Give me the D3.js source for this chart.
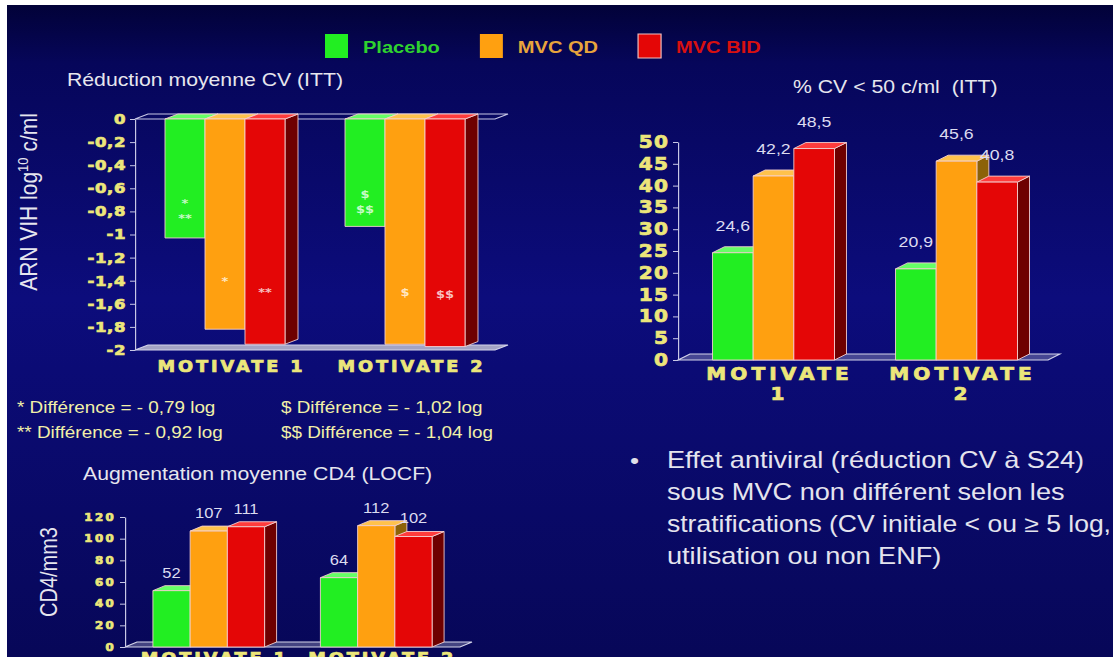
<!DOCTYPE html>
<html>
<head>
<meta charset="utf-8">
<script src="https://cdn.jsdelivr.net/npm/d3@7"></script>
<style>
  html, body { margin: 0; padding: 0; background: #fff; overflow: hidden; }
  svg { display: block; }
</style>
</head>
<body>
<div id="slide"></div>
<script>
// ---- data ----
var series = ["Placebo", "MVC QD", "MVC BID"];
var studies = ["MOTIVATE 1", "MOTIVATE 2"];

// mean viral load reduction (log10 c/ml), per study then per arm
var cvReduction = [[-1.03, -1.82, -1.95], [-0.93, -1.95, -1.97]];
var cvMarks = [[["*", "**"], ["*"], ["**"]], [["$", "$$"], ["$"], ["$$"]]];
var cvTicks = [0, -0.2, -0.4, -0.6, -0.8, -1, -1.2, -1.4, -1.6, -1.8, -2];

// % VL < 50 c/ml
var cvBelow50 = [[24.6, 42.2, 48.5], [20.9, 45.6, 40.8]];
var pctTicks = [0, 5, 10, 15, 20, 25, 30, 35, 40, 45, 50];

// mean CD4 gain
var cd4Gain = [[52, 107, 111], [64, 112, 102]];
var cd4Ticks = [0, 20, 40, 60, 80, 100, 120];

var footnotes = ["* Différence = - 0,79 log", "** Différence = - 0,92 log",
                 "$ Différence = - 1,02 log", "$$ Différence = - 1,04 log"];
var bulletLines = ["Effet antiviral (réduction CV à S24)",
                   "sous MVC non différent selon les",
                   "stratifications (CV initiale < ou ≥ 5 log,",
                   "utilisation ou non ENF)"];

// ---- styles ----
var frontColors = ["#22ee22", "#ffa010", "#e40606"];
var sideColors = ["#0c8a0c", "#8c6208", "#6e0000"];
var topColors = ["#66ff66", "#ffc24c", "#ff3c3c"];
var legendText = ["#2fd22f", "#e8a43c", "#d81010"];
var yellow = "#ece67a";
var axisCol = "#c8c8e6";

var W = 1119, H = 657;
var SX = 1.18;                 // the slide picture is stretched sideways
function sx(v) { return v / SX; }

var fr = d3.formatLocale({decimal: ",", thousands: " ", grouping: [3], currency: ["", " €"]});

var svg = d3.select("#slide").append("svg")
    .attr("width", W)
    .attr("height", H)
    .attr("viewBox", "0 0 " + sx(W) + " " + H)
    .attr("preserveAspectRatio", "none");

var grad = svg.append("defs").append("linearGradient")
    .attr("id", "bg").attr("x1", 0).attr("y1", 0).attr("x2", 0).attr("y2", 1);
[["0%", "#020238"], ["9%", "#06065a"], ["45%", "#0c0c7c"], ["100%", "#070758"]].forEach(function(s) {
  grad.append("stop").attr("offset", s[0]).attr("stop-color", s[1]);
});

svg.append("rect")
    .attr("x", sx(7)).attr("y", 5)
    .attr("width", sx(1113 - 7)).attr("height", H - 5)
    .attr("fill", "url(#bg)");

// legend
var legend = svg.append("g");
var lx = sx(325);
series.forEach(function(s, i) {
  legend.append("rect")
    .attr("x", lx).attr("y", 34)
    .attr("width", sx(23)).attr("height", 24)
    .attr("fill", frontColors[i])
    .attr("stroke", i == 2 ? "#f0c0c0" : "none");
  var t = legend.append("text")
    .attr("x", lx + sx(38)).attr("y", 53)
    .attr("fill", legendText[i])
    .style("font", "bold 17px 'Liberation Sans', Arial, sans-serif")
    .text(s);
  lx = lx + sx(38) + t.node().getComputedTextLength() + sx(40);
});

function para(xa, xb, yy, dx, dy) {
  return "M" + xa + "," + yy + "L" + (xa + dx) + "," + (yy + dy) +
         "L" + (xb + dx) + "," + (yy + dy) + "L" + xb + "," + yy + "Z";
}

// heavy yellow lettering like the slide's Arial Black
function heavy(sel, font, spacing) {
  sel.attr("fill", yellow)
    .attr("stroke", yellow).attr("stroke-width", 0.7)
    .style("font", font)
    .style("letter-spacing", spacing + "px");
}

function drawChart(cfg) {
  var g = svg.append("g");

  var x0 = d3.scaleBand().domain(studies)
      .range(cfg.xRange.map(sx)).paddingInner(1 / 3).paddingOuter(1 / 6);
  var x1 = d3.scaleBand().domain(series).range([0, x0.bandwidth()]);
  var y = d3.scaleLinear().domain(cfg.yDomain).range(cfg.yRange);

  var dx = sx(cfg.depth[0]), dy = cfg.depth[1];
  var left = sx(cfg.axisX), right = sx(cfg.xRange[1]);
  var zero = y(0), floorY = Math.max(y(cfg.yDomain[0]), y(cfg.yDomain[1]));

  // floor
  g.append("path")
    .attr("d", para(left, right, floorY, dx, dy))
    .attr("fill", "#b4b4cc").attr("fill-opacity", cfg.floorOpacity)
    .attr("stroke", "#d4d4ea").attr("stroke-width", 1);
  if (zero != floorY) {
    g.append("path")
      .attr("d", para(left, right, zero, dx, dy))
      .attr("fill", "none").attr("stroke", axisCol).attr("stroke-width", 1);
  }

  var bars = [];
  studies.forEach(function(st, gi) {
    series.forEach(function(s, si) {
      bars.push({study: st, gi: gi, series: s, si: si, value: cfg.values[gi][si]});
    });
  });

  var bar = g.selectAll("g.bar").data(bars).join("g").attr("class", "bar");
  bar.each(function(d) {
    var b = d3.select(this);
    var xa = x0(d.study) + x1(d.series), xb = xa + x1.bandwidth();
    var yt = Math.min(y(d.value), zero), yb = Math.max(y(d.value), zero);
    b.append("path")
      .attr("d", "M" + xb + "," + yt + "L" + (xb + dx) + "," + (yt + dy) +
                 "L" + (xb + dx) + "," + (yb + dy) + "L" + xb + "," + yb + "Z")
      .attr("fill", sideColors[d.si]);
    b.append("path")
      .attr("d", para(xa, xb, yt, dx, dy))
      .attr("fill", topColors[d.si]);
    b.append("rect")
      .attr("x", xa).attr("y", yt)
      .attr("width", xb - xa).attr("height", yb - yt)
      .attr("fill", frontColors[d.si]);
    b.selectAll("path, rect")
      .attr("stroke", "#f6d2d2").attr("stroke-width", 0.8).attr("stroke-linejoin", "round");
  });

  // value labels above bars
  if (cfg.labelFmt) {
    g.selectAll("text.val").data(bars).join("text")
      .attr("class", "val")
      .attr("x", function(d) { return x0(d.study) + x1(d.series) + x1.bandwidth() / 2; })
      .attr("y", function(d) { return y(d.value) + dy - cfg.labelGap; })
      .attr("text-anchor", "middle")
      .attr("fill", "#dcdcf0")
      .style("font", cfg.labelFont)
      .text(function(d) { return cfg.labelFmt(d.value); });
  }

  // significance marks inside the bars
  if (cfg.marks) {
    bars.forEach(function(d) {
      var lines = cfg.marks[d.gi][d.si];
      var cy = zero + 0.77 * (y(d.value) - zero);
      lines.forEach(function(m, k) {
        g.append("text")
          .attr("x", x0(d.study) + x1(d.series) + x1.bandwidth() / 2)
          .attr("y", cy + (k - (lines.length - 1) / 2) * 15 + 4)
          .attr("text-anchor", "middle")
          .attr("fill", "#ffffff").attr("fill-opacity", 0.75)
          .style("font", "bold 11px 'DejaVu Sans', sans-serif")
          .text(m);
      });
    });
  }

  // y axis
  var ax = g.append("g")
    .attr("transform", "translate(" + left + ",0)")
    .call(d3.axisLeft(y).tickValues(cfg.ticks).tickFormat(cfg.tickFmt)
      .tickSize(sx(5)).tickSizeOuter(0).tickPadding(sx(4)));
  ax.select(".domain").attr("stroke", axisCol);
  ax.selectAll(".tick line").attr("stroke", axisCol);
  ax.selectAll(".tick text").call(heavy, cfg.tickFont, cfg.tickSpacing);

  // study labels
  studies.forEach(function(st) {
    var cx = x0(st) + x0.bandwidth() / 2 + dx / 2;
    var t = g.append("text")
      .attr("x", cx)
      .attr("y", cfg.catY)
      .attr("text-anchor", "middle")
      .call(heavy, cfg.catFont, cfg.catSpacing);
    if (cfg.catSplit) {
      st.split(" ").forEach(function(w, k) {
        t.append("tspan").attr("x", cx).attr("dy", k ? 20 : 0).text(w);
      });
    } else {
      t.text(st);
    }
  });
  return g;
}

var titleFont = "18px 'Liberation Sans', Arial, sans-serif";
var titleCol = "#e6e6ee";

// chart 1: reduction moyenne CV
svg.append("text").attr("x", sx(67)).attr("y", 86)
  .attr("fill", titleCol).style("font", titleFont)
  .text("Réduction moyenne CV (ITT)");

drawChart({
  values: cvReduction, marks: cvMarks,
  ticks: cvTicks, tickFmt: function(d) { return String(+d.toFixed(1)).replace(".", ","); },
  xRange: [135, 495], axisX: 135,
  yDomain: [0, -2], yRange: [119, 350],
  depth: [13, -5], floorOpacity: 0.9,
  tickFont: "bold 14px 'DejaVu Sans', sans-serif", tickSpacing: 0.5,
  catFont: "bold 15px 'DejaVu Sans', sans-serif", catSpacing: 2.5, catY: 372
});

var yl = svg.append("text")
  .attr("transform", "translate(" + sx(37) + ",202) rotate(-90)")
  .attr("text-anchor", "middle")
  .attr("fill", titleCol)
  .style("font", "21px 'Liberation Sans', Arial, sans-serif");
yl.append("tspan").text("ARN VIH log");
yl.append("tspan").attr("dy", -8).style("font-size", "13px").text("10");
yl.append("tspan").attr("dy", 8).text(" c/ml");

// footnotes
svg.selectAll("text.note").data(footnotes).join("text")
  .attr("class", "note")
  .attr("x", function(d, i) { return sx(i < 2 ? 17 : 281); })
  .attr("y", function(d, i) { return 413 + (i % 2) * 25; })
  .attr("fill", "#f2f0a8")
  .style("font", "16px 'Liberation Sans', Arial, sans-serif")
  .text(function(d) { return d; });

// chart 2: % CV < 50
svg.append("text").attr("x", sx(793)).attr("y", 93)
  .attr("fill", titleCol).style("font", titleFont).style("white-space", "pre")
  .text("% CV < 50 c/ml  (ITT)");

drawChart({
  values: cvBelow50,
  ticks: pctTicks, tickFmt: d3.format("d"),
  xRange: [682, 1048], axisX: 678,
  yDomain: [0, 50], yRange: [360, 142],
  depth: [12, -6], floorOpacity: 0.35,
  labelFmt: fr.format(".1f"), labelFont: "15px 'Liberation Sans', Arial, sans-serif", labelGap: 16,
  tickFont: "bold 17px 'DejaVu Sans', sans-serif", tickSpacing: 1,
  catFont: "bold 17px 'DejaVu Sans', sans-serif", catSpacing: 3.5, catY: 380, catSplit: true
});

// chart 3: CD4
svg.append("text").attr("x", sx(83)).attr("y", 480)
  .attr("fill", titleCol).style("font", titleFont)
  .text("Augmentation moyenne CD4 (LOCF)");

drawChart({
  values: cd4Gain,
  ticks: cd4Ticks, tickFmt: d3.format("d"),
  xRange: [125, 460], axisX: 125,
  yDomain: [0, 120], yRange: [647, 517],
  depth: [12, -5], floorOpacity: 0.35,
  labelFmt: d3.format("d"), labelFont: "14px 'Liberation Sans', Arial, sans-serif", labelGap: 8,
  tickFont: "bold 10px 'DejaVu Sans', sans-serif", tickSpacing: 2,
  catFont: "bold 15px 'DejaVu Sans', sans-serif", catSpacing: 2.5, catY: 664
});

svg.append("text")
  .attr("transform", "translate(" + sx(57) + ",572) rotate(-90)")
  .attr("text-anchor", "middle")
  .attr("fill", titleCol)
  .style("font", "20px 'Liberation Sans', Arial, sans-serif")
  .text("CD4/mm3");

// bullet text
svg.append("text").attr("x", sx(630)).attr("y", 468)
  .attr("fill", "#e0e0ea").style("font", "22px 'Liberation Sans', Arial, sans-serif")
  .text("•");
var maxLine = sx(1111 - 667);
svg.selectAll("text.bullet").data(bulletLines).join("text")
  .attr("class", "bullet")
  .attr("x", sx(667))
  .attr("y", function(d, i) { return 468 + i * 32; })
  .attr("fill", "#e4e4ee")
  .style("font", "23px 'Liberation Sans', Arial, sans-serif")
  .text(function(d) { return d; })
  .each(function() {
    // squeeze a line that would run past the slide edge
    if (this.getComputedTextLength() > maxLine) {
      d3.select(this).attr("textLength", maxLine).attr("lengthAdjust", "spacingAndGlyphs");
    }
  });

// white frame strip on the right
svg.append("rect").attr("x", sx(1113)).attr("y", 0)
  .attr("width", sx(6)).attr("height", H).attr("fill", "#fff");
</script>
</body>
</html>
